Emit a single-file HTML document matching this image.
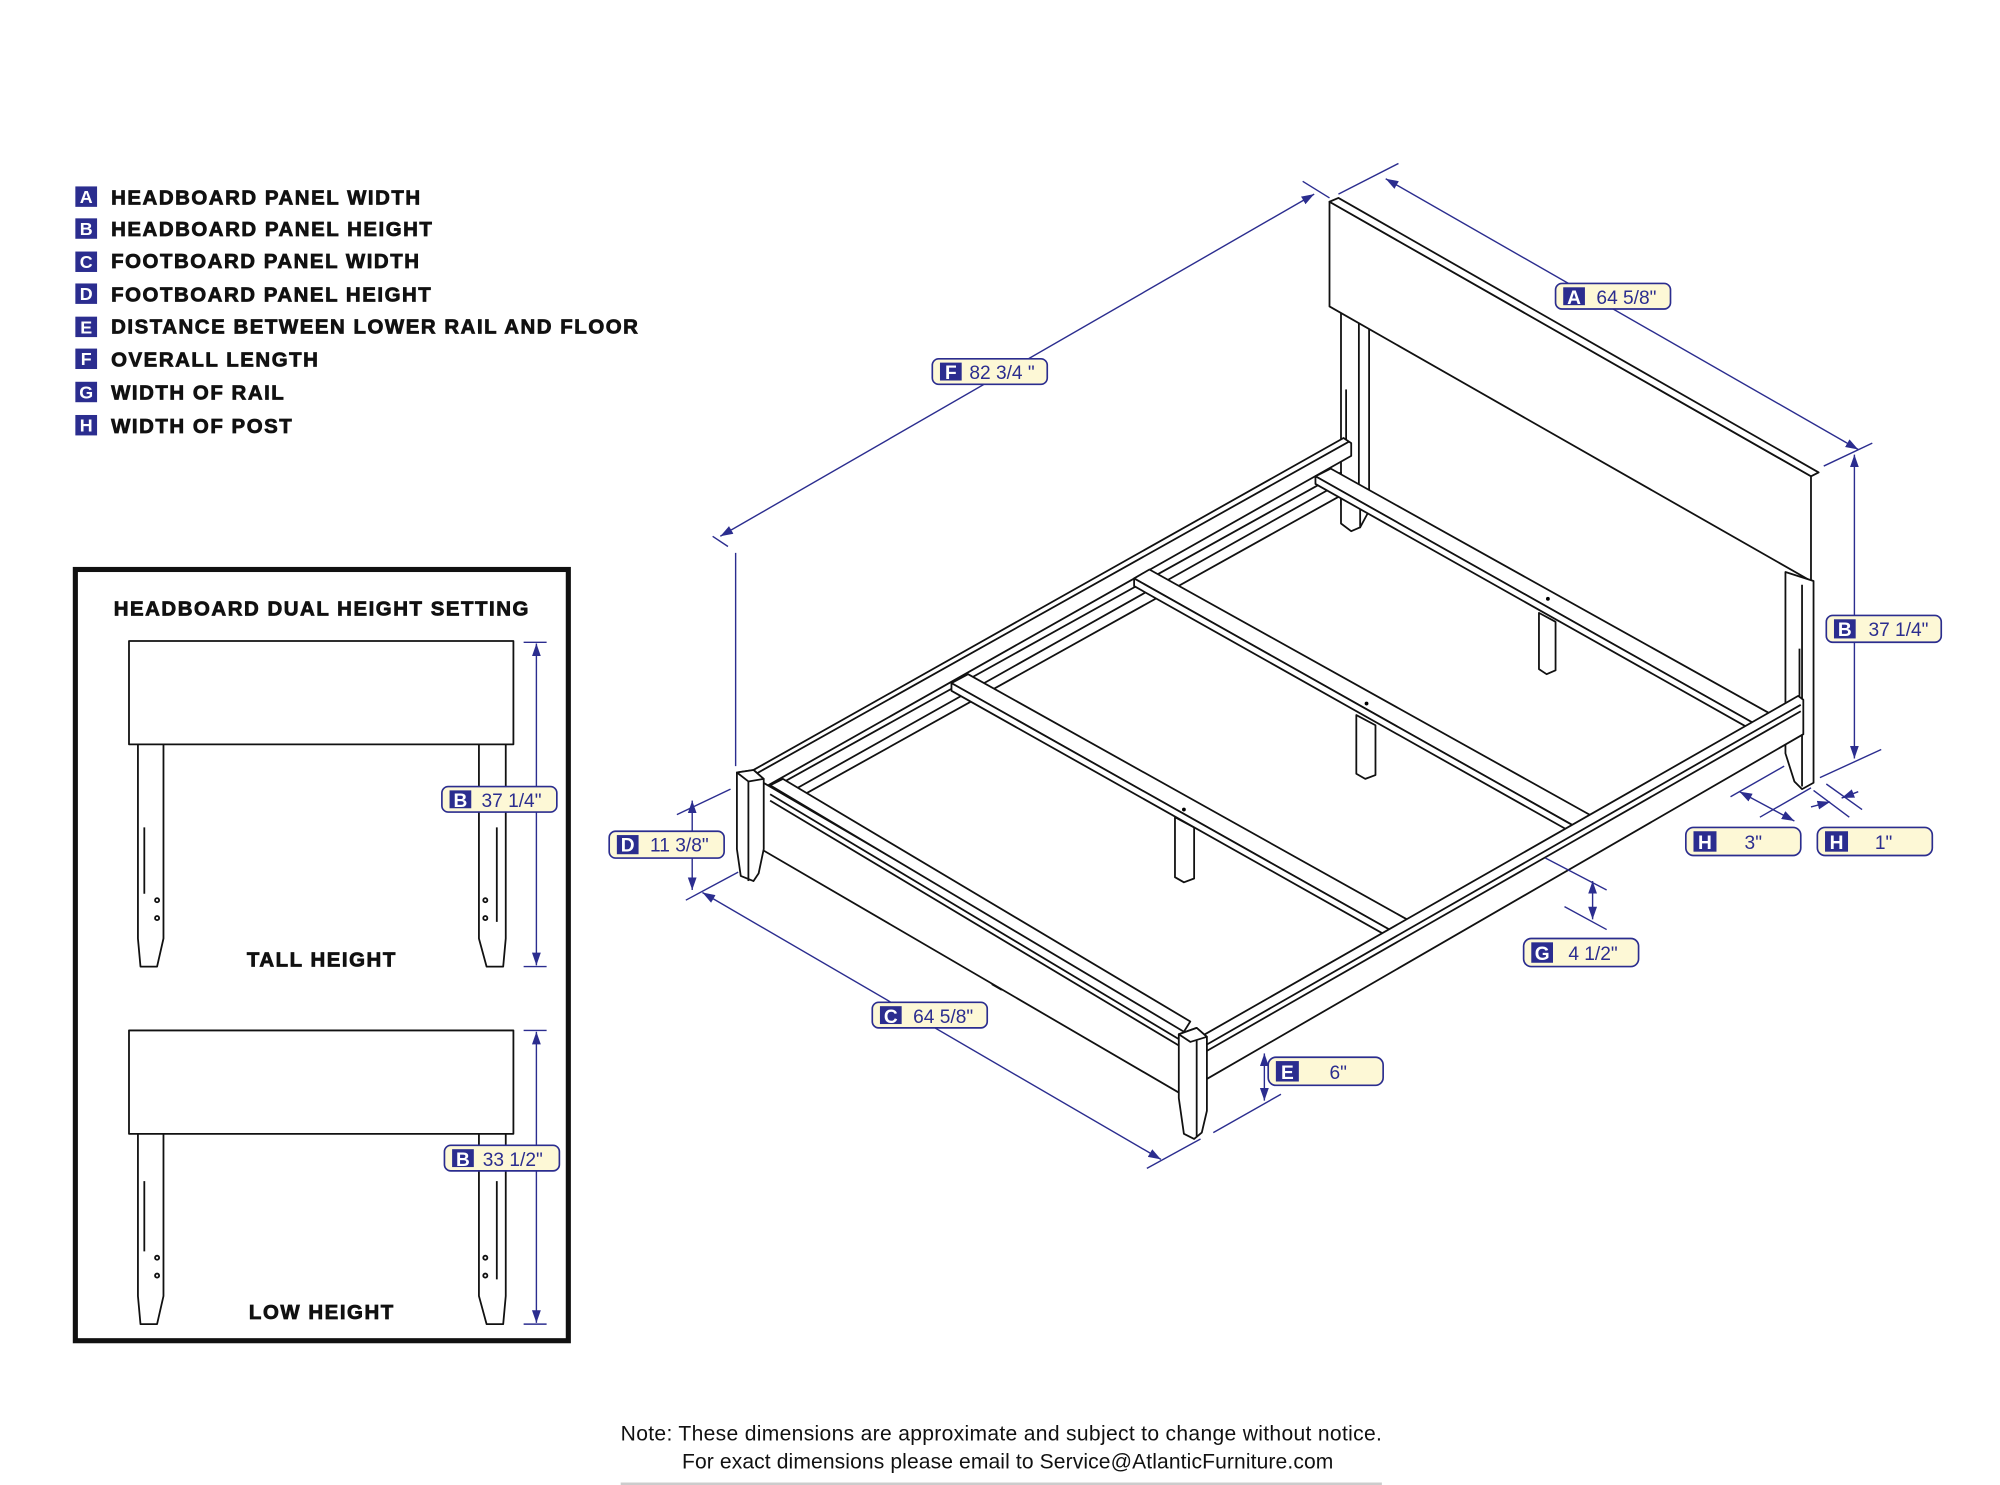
<!DOCTYPE html>
<html><head><meta charset="utf-8"><style>
html,body{margin:0;padding:0;background:#fff}
svg{display:block}
.b{fill:#fff;stroke:#111;stroke-width:1.4;stroke-linejoin:round}
.l{fill:none;stroke:#111;stroke-width:1.4}
.d{fill:none;stroke:#2b2d8f;stroke-width:1.1}
.lb{fill:#fdf8d6;stroke:#2b2d8f;stroke-width:1.3}
.sq{fill:#2b2d8f}
.lt{fill:#fff;font:bold 15px "Liberation Sans",sans-serif;text-anchor:middle}
.vt{fill:#2b2d8f;font:15px "Liberation Sans",sans-serif}
.leg{font:bold 16px "Liberation Sans",sans-serif;fill:#111;stroke:#111;stroke-width:0.6;letter-spacing:1.2px}
.legl{fill:#fff;font:bold 14px "Liberation Sans",sans-serif;text-anchor:middle}
</style></head><body>
<svg width="2000" height="1485" viewBox="0 0 1566 1163" preserveAspectRatio="none" xmlns="http://www.w3.org/2000/svg">
<defs>
<marker id="ar" viewBox="0 0 10 10" refX="10" refY="5" markerWidth="9" markerHeight="9" orient="auto-start-reverse"><path d="M0,1.5 L10,5 L0,8.5 z" fill="#2b2d8f"/></marker>
</defs>

<g>
<rect class="sq" x="59" y="146" width="17" height="16"/><text class="legl" x="67.5" y="159">A</text><text class="leg" x="87" y="160">HEADBOARD PANEL WIDTH</text>
<rect class="sq" x="59" y="171" width="17" height="16"/><text class="legl" x="67.5" y="184">B</text><text class="leg" x="87" y="185">HEADBOARD PANEL HEIGHT</text>
<rect class="sq" x="59" y="197" width="17" height="16"/><text class="legl" x="67.5" y="210">C</text><text class="leg" x="87" y="210">FOOTBOARD PANEL WIDTH</text>
<rect class="sq" x="59" y="222" width="17" height="16"/><text class="legl" x="67.5" y="235">D</text><text class="leg" x="87" y="236">FOOTBOARD PANEL HEIGHT</text>
<rect class="sq" x="59" y="248" width="17" height="16"/><text class="legl" x="67.5" y="261">E</text><text class="leg" x="87" y="261">DISTANCE BETWEEN LOWER RAIL AND FLOOR</text>
<rect class="sq" x="59" y="273" width="17" height="16"/><text class="legl" x="67.5" y="286">F</text><text class="leg" x="87" y="287">OVERALL LENGTH</text>
<rect class="sq" x="59" y="299" width="17" height="16"/><text class="legl" x="67.5" y="312">G</text><text class="leg" x="87" y="313">WIDTH OF RAIL</text>
<rect class="sq" x="59" y="325" width="17" height="16"/><text class="legl" x="67.5" y="338">H</text><text class="leg" x="87" y="339">WIDTH OF POST</text>
</g>

<rect x="59" y="446" width="386" height="604" fill="#fff" stroke="#111" stroke-width="4"/>
<text class="leg" x="252" y="482" text-anchor="middle">HEADBOARD DUAL HEIGHT SETTING</text>
<g>
<rect class="b" x="101" y="502" width="301" height="81"/>
<path class="b" d="M108,583 L128,583 L128,735 L123,757 L110,757 L108,735 Z"/>
<line class="l" x1="113" y1="648" x2="113" y2="700"/>
<circle cx="123" cy="705" r="1.6" class="l"/><circle cx="123" cy="719" r="1.6" class="l"/>
<path class="b" d="M375,583 L396,583 L396,735 L394,757 L381,757 L375,735 Z"/>
<line class="l" x1="389" y1="648" x2="389" y2="722"/>
<circle cx="380" cy="705" r="1.6" class="l"/><circle cx="380" cy="719" r="1.6" class="l"/>
<text class="leg" x="252" y="757" text-anchor="middle">TALL HEIGHT</text>
<line class="d" x1="410" y1="503" x2="428" y2="503"/><line class="d" x1="410" y1="757" x2="428" y2="757"/>
<line class="d" x1="420" y1="504" x2="420" y2="756" marker-start="url(#ar)" marker-end="url(#ar)"/>
</g>
<g>
<rect class="b" x="101" y="807" width="301" height="81"/>
<path class="b" d="M108,888 L128,888 L128,1015 L123,1037 L110,1037 L108,1015 Z"/>
<line class="l" x1="113" y1="925" x2="113" y2="980"/>
<circle cx="123" cy="985" r="1.6" class="l"/><circle cx="123" cy="999" r="1.6" class="l"/>
<path class="b" d="M375,888 L396,888 L396,1015 L394,1037 L381,1037 L375,1015 Z"/>
<line class="l" x1="389" y1="925" x2="389" y2="1002"/>
<circle cx="380" cy="985" r="1.6" class="l"/><circle cx="380" cy="999" r="1.6" class="l"/>
<text class="leg" x="252" y="1033" text-anchor="middle">LOW HEIGHT</text>
<line class="d" x1="410" y1="807" x2="428" y2="807"/><line class="d" x1="410" y1="1037" x2="428" y2="1037"/>
<line class="d" x1="420" y1="808" x2="420" y2="1036" marker-start="url(#ar)" marker-end="url(#ar)"/>
</g>

<path class="b" d="M1050,240 L1072,252 L1072,400 L1065,413 L1053,410 L1050,395 Z"/>
<line class="l" x1="1064" y1="248" x2="1064" y2="400"/>
<line class="l" x1="1054" y1="305" x2="1054" y2="345"/>
<path class="b" d="M1041,158 L1418,373 L1418,455 L1041,240 Z"/>
<path class="b" d="M1041,158 L1048,155 L1424,370 L1418,373 Z"/>
<path class="b" d="M1398,448 L1420,455 L1420,613 L1411,618 L1405,612 L1398,590 Z"/>
<line class="l" x1="1411" y1="458" x2="1411" y2="616"/>
<line class="l" x1="1409" y1="508" x2="1409" y2="545"/>
<path class="b" d="M1050,390 L1065,398 L1065,413 L1058,416 L1050,410 Z"/>
<path class="b" d="M1205,480 L1218,487 L1218,525 L1211,528 L1205,524 Z"/>
<path class="b" d="M1062,560 L1077,568 L1077,607 L1069,610 L1062,606 Z"/>
<path class="b" d="M920,640 L935,648 L935,688 L927,691 L920,687 Z"/>
<path class="b" d="M777,750 L792,758 L792,772 L784,775 L777,771 Z"/>
<path class="b" d="M590,603 L1052,343 L1058,347 L1058,357 L598,617 L590,613 Z"/>
<line class="l" x1="592" y1="606" x2="1056" y2="346"/>
<path class="b" d="M600,620 L1050,370 L1050,378 L605,628 Z"/>
<line class="l" x1="605" y1="636" x2="1050" y2="388"/>
<path class="b" d="M745,535 L758,528 L1107,723 L1095,732 Z"/>
<path class="b" d="M745,535 L745,541 L1095,738 L1095,732 Z"/>
<path class="b" d="M888,453 L900,446 L1250,641 L1238,650 Z"/>
<path class="b" d="M888,453 L888,459 L1238,656 L1238,650 Z"/>
<path class="b" d="M1030,373 L1042,367 L1388,560 L1376,568 Z"/>
<path class="b" d="M1030,373 L1030,379 L1376,574 L1376,568 Z"/>
<circle cx="927" cy="634" r="1.5"/><circle cx="1070" cy="551" r="1.5"/><circle cx="1212" cy="469" r="1.5"/><circle cx="785" cy="716" r="1.5"/>
<path class="b" d="M940,812 L1408,545 L1412,548 L1412,575 L945,845 Z"/>
<line class="l" x1="945" y1="818" x2="1410" y2="552"/>
<line class="l" x1="945" y1="823" x2="1410" y2="557"/>
<path class="b" d="M596,612 L927,805 L927,858 L596,665 Z"/>
<path class="b" d="M603,615 L613,610 L932,800 L927,808 Z"/>
<line class="l" x1="603" y1="622" x2="925" y2="815"/>
<line class="l" x1="603" y1="627" x2="925" y2="820"/>
<path class="b" d="M577,605 L590,603 L598,610 L598,665 L594,684 L590,690 L580,686 L577,665 Z"/>
<path class="b" d="M577,605 L590,603 L598,610 L586,612 Z"/>
<line class="l" x1="586" y1="612" x2="586" y2="690"/>
<path class="b" d="M923,810 L937,805 L945,812 L945,870 L941,887 L935,892 L927,888 L923,860 Z"/>
<path class="b" d="M923,810 L937,805 L945,812 L932,816 Z"/>
<line class="l" x1="937" y1="815" x2="937" y2="890"/>

<line class="d" x1="564" y1="420" x2="1029" y2="152" marker-start="url(#ar)" marker-end="url(#ar)"/>
<line class="d" x1="558" y1="420" x2="570" y2="428"/>
<line class="d" x1="1020" y1="142" x2="1041" y2="155"/>
<line class="d" x1="576" y1="433" x2="576" y2="600"/>
<line class="d" x1="1048" y1="152" x2="1095" y2="128"/>
<line class="d" x1="1085" y1="140" x2="1455" y2="352" marker-start="url(#ar)" marker-end="url(#ar)"/>
<line class="d" x1="1428" y1="365" x2="1466" y2="347"/>
<line class="d" x1="1452" y1="356" x2="1452" y2="594" marker-start="url(#ar)" marker-end="url(#ar)"/>
<line class="d" x1="1425" y1="609" x2="1473" y2="587"/>
<line class="d" x1="1355" y1="624" x2="1397" y2="600"/>
<line class="d" x1="1378" y1="640" x2="1418" y2="617"/>
<line class="d" x1="1362" y1="620" x2="1405" y2="643" marker-start="url(#ar)" marker-end="url(#ar)"/>
<line class="d" x1="1420" y1="619" x2="1448" y2="640"/>
<line class="d" x1="1430" y1="614" x2="1458" y2="634"/>
<line class="d" x1="1418" y1="632" x2="1433" y2="628" marker-end="url(#ar)"/>
<line class="d" x1="1455" y1="620" x2="1442" y2="625" marker-end="url(#ar)"/>
<line class="d" x1="542" y1="627" x2="542" y2="697" marker-start="url(#ar)" marker-end="url(#ar)"/>
<line class="d" x1="530" y1="638" x2="572" y2="618"/>
<line class="d" x1="537" y1="705" x2="578" y2="683"/>
<line class="d" x1="550" y1="699" x2="909" y2="908" marker-start="url(#ar)" marker-end="url(#ar)"/>
<line class="d" x1="898" y1="915" x2="940" y2="892"/>
<line class="d" x1="990" y1="825" x2="990" y2="862" marker-start="url(#ar)" marker-end="url(#ar)"/>
<line class="d" x1="950" y1="887" x2="1003" y2="857"/>
<line class="d" x1="1247" y1="690" x2="1247" y2="720" marker-start="url(#ar)" marker-end="url(#ar)"/>
<line class="d" x1="1210" y1="672" x2="1258" y2="697"/>
<line class="d" x1="1225" y1="710" x2="1258" y2="728"/>

<g>
<rect class="lb" x="1218" y="222" width="90" height="20" rx="5"/><rect class="sq" x="1224" y="225" width="17" height="14"/><text class="lt" x="1232.5" y="238">A</text><text class="vt" x="1250" y="238">64 5/8"</text>
<rect class="lb" x="730" y="281" width="90" height="20" rx="5"/><rect class="sq" x="736" y="284" width="17" height="14"/><text class="lt" x="744.5" y="297">F</text><text class="vt" x="759" y="297">82 3/4 "</text>
<rect class="lb" x="1430" y="482" width="90" height="21" rx="5"/><rect class="sq" x="1436" y="485" width="17" height="15"/><text class="lt" x="1444.5" y="498">B</text><text class="vt" x="1463" y="498">37 1/4"</text>
<rect class="lb" x="1320" y="648" width="90" height="22" rx="6"/><rect class="sq" x="1326" y="651" width="18" height="16"/><text class="lt" x="1335" y="665">H</text><text class="vt" x="1366" y="665">3"</text>
<rect class="lb" x="1423" y="648" width="90" height="22" rx="6"/><rect class="sq" x="1429" y="651" width="18" height="16"/><text class="lt" x="1438" y="665">H</text><text class="vt" x="1468" y="665">1"</text>
<rect class="lb" x="1193" y="735" width="90" height="22" rx="6"/><rect class="sq" x="1199" y="738" width="17" height="16"/><text class="lt" x="1207.5" y="752">G</text><text class="vt" x="1228" y="752">4 1/2"</text>
<rect class="lb" x="993" y="828" width="90" height="22" rx="6"/><rect class="sq" x="999" y="831" width="18" height="16"/><text class="lt" x="1008" y="845">E</text><text class="vt" x="1041" y="845">6"</text>
<rect class="lb" x="683" y="785" width="90" height="20" rx="5"/><rect class="sq" x="689" y="788" width="17" height="14"/><text class="lt" x="697.5" y="801">C</text><text class="vt" x="715" y="801">64 5/8"</text>
<rect class="lb" x="477" y="651" width="90" height="21" rx="5"/><rect class="sq" x="483" y="654" width="17" height="15"/><text class="lt" x="491.5" y="667">D</text><text class="vt" x="509" y="667">11 3/8"</text>
<rect class="lb" x="346" y="616" width="90" height="20" rx="5"/><rect class="sq" x="352" y="619" width="17" height="14"/><text class="lt" x="360.5" y="632">B</text><text class="vt" x="377" y="632">37 1/4"</text>
<rect class="lb" x="348" y="897" width="90" height="20" rx="5"/><rect class="sq" x="354" y="900" width="17" height="14"/><text class="lt" x="362.5" y="913">B</text><text class="vt" x="378" y="913">33 1/2"</text>
</g>

<text x="486" y="1128" font-family="Liberation Sans, sans-serif" font-size="16.5" fill="#111" textLength="596">Note:  These dimensions are approximate and subject to change without notice.</text>
<text x="534" y="1150" font-family="Liberation Sans, sans-serif" font-size="16.5" fill="#111" textLength="510">For exact dimensions please email to Service@AtlanticFurniture.com</text>
<line x1="486" y1="1162" x2="1082" y2="1162" stroke="#ccc" stroke-width="2"/>
</svg>
</body></html>
